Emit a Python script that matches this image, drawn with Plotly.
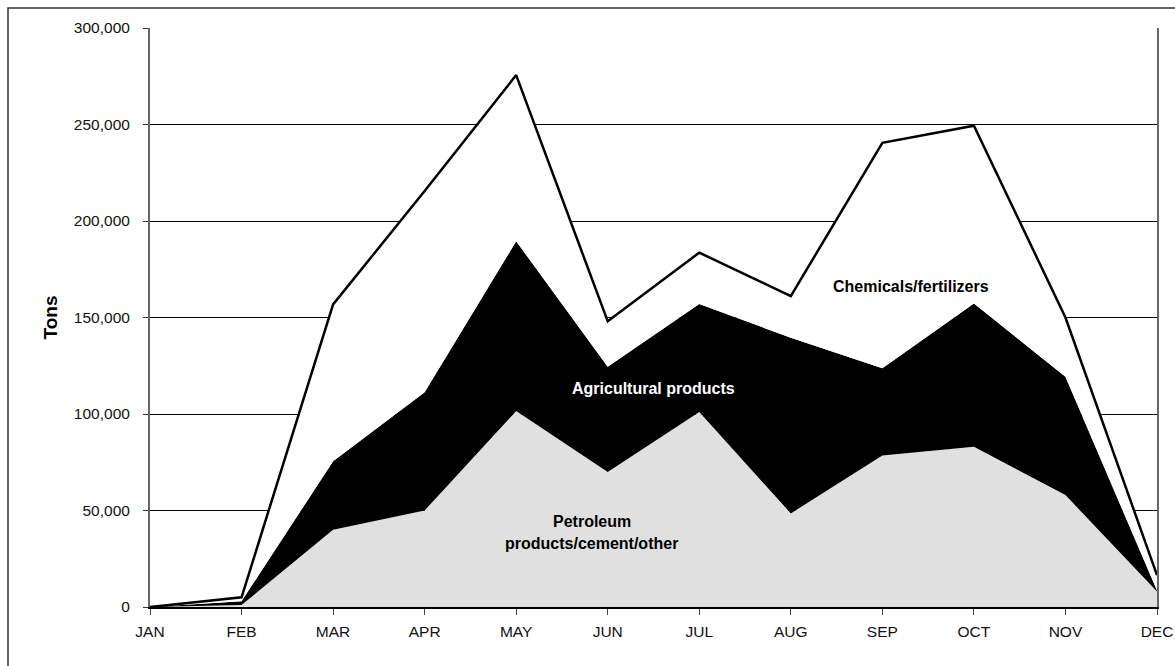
import plotly.graph_objects as go

months = ["JAN", "FEB", "MAR", "APR", "MAY", "JUN", "JUL", "AUG", "SEP", "OCT", "NOV", "DEC"]
petroleum = [0, 1000, 40000, 50000, 101500, 70000, 101000, 48500, 78500, 83000, 58000, 8000]
agricultural = [0, 2000, 35500, 61300, 88000, 54500, 56000, 91000, 45200, 74300, 61300, 500]
chemicals = [0, 2000, 81300, 104200, 86100, 23500, 26600, 21600, 116800, 92100, 30700, 8000]
y_ticks = [0, 50000, 100000, 150000, 200000, 250000, 300000]

x_idx = list(range(len(months)))
FONT = "Liberation Sans, Arial, sans-serif"

# figure pixel geometry (page body margin removed below)
L, R, T, B = 150, 18, 28, 59
PW, PH = 1175 - L - R, 666 - T - B

fig = go.Figure()
fig.add_trace(go.Scatter(x=x_idx, y=petroleum, stackgroup="one", mode="lines",
                         line=dict(width=0, color="#e0e0e0"), fillcolor="#e0e0e0",
                         name="Petroleum products/cement/other"))
fig.add_trace(go.Scatter(x=x_idx, y=agricultural, stackgroup="one", mode="lines",
                         line=dict(width=0, color="#000000"), fillcolor="#000000",
                         name="Agricultural products"))
fig.add_trace(go.Scatter(x=x_idx, y=chemicals, stackgroup="one", mode="lines",
                         line=dict(width=2.5, color="#000000"), fillcolor="#ffffff",
                         name="Chemicals/fertilizers"))

fig.update_layout(
    width=1175, height=666, autosize=False,
    margin=dict(l=L, r=R, t=T, b=B),
    paper_bgcolor="white", plot_bgcolor="white",
    showlegend=False,
    font=dict(family=FONT, size=15.5, color="#111"),
    xaxis=dict(range=[0, 11], tickvals=x_idx, ticktext=months, automargin=False,
               ticks="outside", ticklen=6, tickcolor="#444", tickwidth=1,
               ticklabelstandoff=3,
               showgrid=False, zeroline=False,
               showline=True, linecolor="#000", linewidth=2,
               tickfont=dict(size=15.5, family=FONT, color="#111")),
    yaxis=dict(range=[0, 300000], tickvals=y_ticks, tickformat=",", automargin=False,
               ticks="outside", ticklen=5, tickcolor="#333", tickwidth=1,
               ticklabelstandoff=10,
               showgrid=True, gridcolor="#000", gridwidth=1, zeroline=False,
               showline=True, linecolor="#666", linewidth=2, mirror=True,
               title=dict(text="<b>Tons</b>", font=dict(size=19, family=FONT, color="#000"), standoff=11),
               tickfont=dict(size=15.5, family=FONT, color="#111")),
)

ann_font = dict(family=FONT, size=16)
fig.add_annotation(x=8.318, y=166300, text="<b>Chemicals/fertilizers</b>", showarrow=False,
                   font=dict(**ann_font, color="#000"))
fig.add_annotation(x=5.495, y=113300, text="<b>Agricultural products</b>", showarrow=False,
                   font=dict(**ann_font, color="#fff"))
fig.add_annotation(x=4.828, y=44200, text="<b>Petroleum</b>", showarrow=False,
                   font=dict(**ann_font, color="#000"))
fig.add_annotation(x=4.828, y=33000, text="<b>products/cement/other</b>", showarrow=False,
                   font=dict(**ann_font, color="#000"))

# outer chart border (right and bottom edges fall outside the picture)
fig.add_shape(type="rect", xref="paper", yref="paper",
              x0=(8 - L) / PW, x1=(1200 - L) / PW,
              y0=-(B + 20) / PH, y1=(666 - B - 8) / PH,
              line=dict(color="#333", width=1.5), fillcolor="rgba(0,0,0,0)", layer="above")

fig.write_html(
    "out.html",
    config={"displayModeBar": False, "responsive": False},
    post_script="document.body.style.margin='0';document.documentElement.style.overflow='hidden';document.body.style.overflow='hidden';",
)
